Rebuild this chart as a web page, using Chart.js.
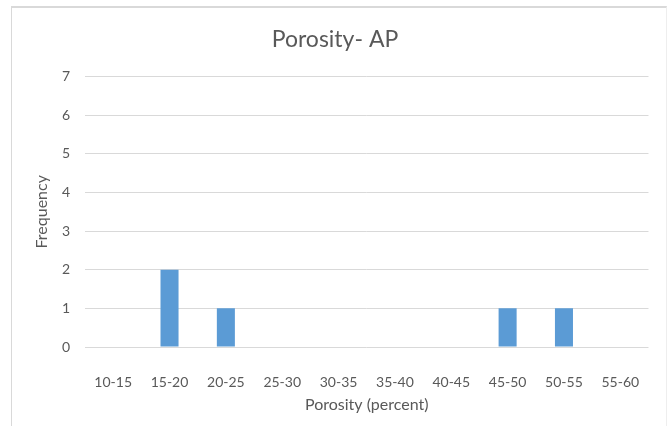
<!DOCTYPE html>
<html>
<head>
<meta charset="utf-8">
<script src="https://cdn.jsdelivr.net/npm/chart.js@4"></script>
<style>
  html, body { margin: 0; padding: 0; background: #fff; }
  #wrap { position: relative; width: 667px; height: 426px; }
  #frame { position: absolute; left: 11px; top: 6px; width: 654px; height: 430px;
           border-left: 1px solid #d9d9d9; border-top: 2px solid #d9d9d9; border-right: 1px solid #eeeeee; }
  canvas { position: absolute; left: 0; top: 0; }
</style>
</head>
<body>
<div id="wrap">
  <div id="frame"></div>
  <canvas id="porosityChart" width="667" height="426"></canvas>
</div>
<script>
const categories = ['10-15', '15-20', '20-25', '25-30', '30-35', '35-40', '40-45', '45-50', '50-55', '55-60'];
const frequency = [0, 2, 1, 0, 0, 0, 0, 1, 1, 0];
const yTicks = [0, 1, 2, 3, 4, 5, 6, 7];

const textColor = '#595959';
const fontFamily = 'Lato, "Open Sans", sans-serif';

const ctx = document.getElementById('porosityChart').getContext('2d');
new Chart(ctx, {
  type: 'bar',
  data: {
    labels: categories,
    datasets: [{
      label: 'Frequency',
      data: frequency,
      backgroundColor: '#5b9bd5',
      borderWidth: 0,
      categoryPercentage: 1,
      barPercentage: 0.32
    }]
  },
  options: {
    responsive: false,
    animation: false,
    layout: { padding: { left: 20, right: 17, top: 0, bottom: 0 } },
    plugins: {
      legend: { display: false },
      tooltip: { enabled: false },
      title: {
        display: true,
        text: 'Porosity- AP',
        color: textColor,
        font: { family: fontFamily, size: 23, weight: 'normal' },
        padding: { top: 26, bottom: 23 }
      }
    },
    scales: {
      x: {
        grid: { display: false, drawTicks: false },
        border: { display: false },
        ticks: { color: textColor, font: { family: fontFamily, size: 14 }, padding: 27, maxRotation: 0 },
        title: {
          display: true,
          text: 'Porosity (percent)',
          color: textColor,
          font: { family: fontFamily, size: 16 },
          padding: { top: 0, bottom: 12 }
        },
        afterFit: scale => { scale.height = 79; }
      },
      y: {
        min: 0,
        max: 7,
        afterBuildTicks: scale => { scale.ticks = yTicks.map(v => ({ value: v })); },
        grid: { color: '#d9d9d9', lineWidth: 1, drawTicks: false },
        border: { display: false },
        ticks: { color: textColor, font: { family: fontFamily, size: 14 }, padding: 15 },
        title: {
          display: true,
          text: 'Frequency',
          color: textColor,
          font: { family: fontFamily, size: 16 },
          padding: { top: 12, bottom: 0 }
        },
        afterFit: scale => { scale.width = 65; }
      }
    }
  }
});
</script>
</body>
</html>
